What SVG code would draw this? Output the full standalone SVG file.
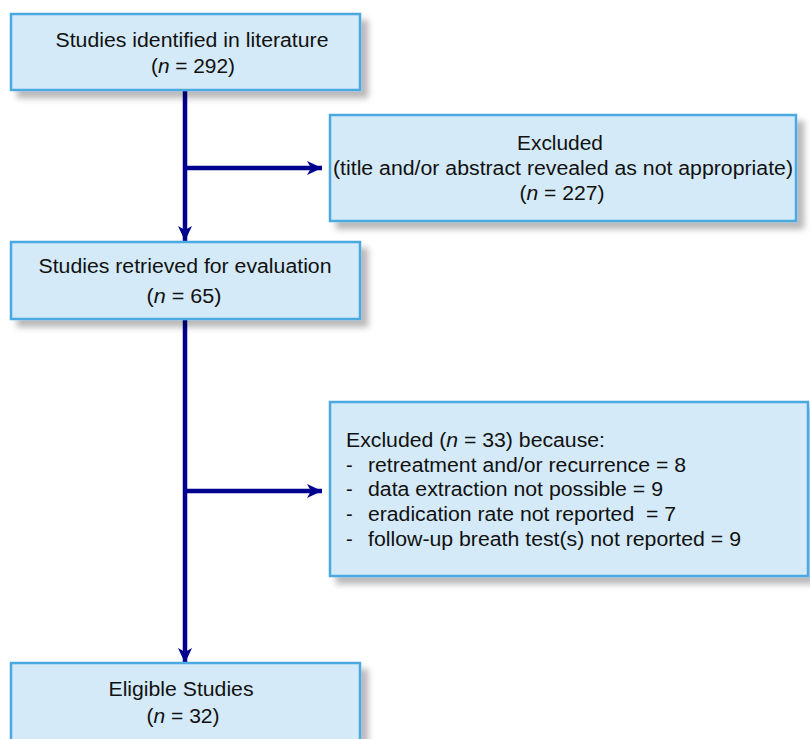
<svg xmlns="http://www.w3.org/2000/svg" width="810" height="739" viewBox="0 0 810 739">
<style>
.box{fill:#D4EAF8;stroke:#4BA9E2;stroke-width:2.5;filter:url(#sh)}
.t{font-family:"Liberation Sans",Arial,sans-serif;font-size:20px;fill:#111}
.c{text-anchor:middle}
.i{font-style:italic}
.ln{stroke:#00008F;stroke-width:4.5;fill:none}
</style>
<defs>
<filter id="sh" x="-10%" y="-10%" width="130%" height="140%">
<feDropShadow dx="7" dy="7" stdDeviation="3" flood-color="#000" flood-opacity="0.28"/>
</filter>
<marker id="ah" markerUnits="userSpaceOnUse" markerWidth="20" markerHeight="20" refX="16" refY="8" orient="auto" viewBox="0 0 20 16">
<path d="M16,8 L1,1 L5,8 L1,15 Z" fill="#00008F"/>
</marker>
</defs>
<g id="connectors">
<line class="ln" x1="185" y1="90" x2="185" y2="241"  marker-end="url(#ah)"/>
<line class="ln" x1="185" y1="168" x2="322" y2="168" marker-end="url(#ah)"/>
<line class="ln" x1="185" y1="319" x2="185" y2="663" marker-end="url(#ah)"/>
<line class="ln" x1="185" y1="491" x2="322" y2="491" marker-end="url(#ah)"/>
</g>
<g id="n1">
<rect class="box" x="11" y="14" width="349" height="76"/>
<text class="t c" x="192" y="47" textLength="273" lengthAdjust="spacingAndGlyphs">Studies identified in literature</text>
<text class="t c" x="193" y="73" textLength="84" lengthAdjust="spacingAndGlyphs">(<tspan class="i">n</tspan> = 292)</text>
</g>
<g id="n2">
<rect class="box" x="330" y="115" width="466" height="106"/>
<text class="t c" x="560" y="150" textLength="86" lengthAdjust="spacingAndGlyphs">Excluded</text>
<text class="t c" x="563" y="175" textLength="460" lengthAdjust="spacingAndGlyphs">(title and/or abstract revealed as not appropriate)</text>
<text class="t c" x="562" y="200" textLength="85" lengthAdjust="spacingAndGlyphs">(<tspan class="i">n</tspan> = 227)</text>
</g>
<g id="n3">
<rect class="box" x="11" y="242" width="349" height="77"/>
<text class="t c" x="185" y="273" textLength="293" lengthAdjust="spacingAndGlyphs">Studies retrieved for evaluation</text>
<text class="t c" x="184" y="303" textLength="75" lengthAdjust="spacingAndGlyphs">(<tspan class="i">n</tspan> = 65)</text>
</g>
<g id="n4">
<rect class="box" x="330" y="402" width="478" height="174"/>
<text class="t" x="346" y="447" textLength="259" lengthAdjust="spacingAndGlyphs">Excluded (<tspan class="i">n</tspan> = 33) because:</text>
<text class="t" x="346" y="472">-</text>
<text class="t" x="368" y="472" textLength="318" lengthAdjust="spacingAndGlyphs">retreatment and/or recurrence = 8</text>
<text class="t" x="346" y="496">-</text>
<text class="t" x="368" y="496" textLength="295" lengthAdjust="spacingAndGlyphs">data extraction not possible = 9</text>
<text class="t" x="346" y="521">-</text>
<text class="t" x="368" y="521" textLength="308" lengthAdjust="spacingAndGlyphs" xml:space="preserve">eradication rate not reported  = 7</text>
<text class="t" x="346" y="546">-</text>
<text class="t" x="368" y="546" textLength="373" lengthAdjust="spacingAndGlyphs">follow-up breath test(s) not reported = 9</text>
</g>
<g id="n5">
<rect class="box" x="11" y="663" width="349" height="100"/>
<text class="t c" x="181" y="696" textLength="145" lengthAdjust="spacingAndGlyphs">Eligible Studies</text>
<text class="t c" x="183" y="723" textLength="73" lengthAdjust="spacingAndGlyphs">(<tspan class="i">n</tspan> = 32)</text>
</g>
</svg>
